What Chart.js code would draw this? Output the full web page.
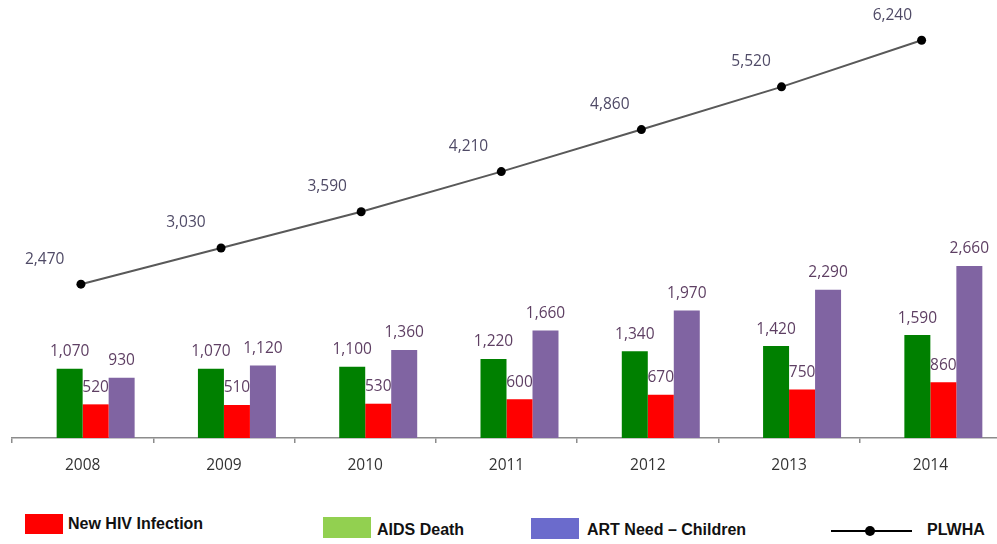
<!DOCTYPE html>
<html>
<head>
<meta charset="utf-8">
<script src="https://cdn.jsdelivr.net/npm/chart.js@4/dist/chart.umd.min.js"></script>
<style>
  html, body { margin: 0; padding: 0; background: #fff; width: 997px; height: 544px; overflow: hidden; }
  .layer { position: absolute; left: 0; top: 0; width: 1005px; height: 500px; }
  .lg { position: absolute; font-family: "Liberation Sans", Arial, sans-serif; font-weight: bold; font-size: 16px; line-height: 16px; color: #111; white-space: nowrap; }
  .sw { position: absolute; }
</style>
</head>
<body>
<div class="layer"><canvas id="bars" width="1005" height="500"></canvas></div>
<div class="layer"><canvas id="trend" width="1005" height="500"></canvas></div>

<!-- legend -->
<div class="sw" style="left:25px;top:514px;width:38px;height:20px;background:#ff0000;"></div>
<div class="lg" style="left:68px;top:516px;">New HIV Infection</div>
<div class="sw" style="left:323px;top:517px;width:48px;height:21px;background:#92d050;"></div>
<div class="lg" style="left:377px;top:522px;">AIDS Death</div>
<div class="sw" style="left:531px;top:518px;width:48px;height:21px;background:#6b6bcc;"></div>
<div class="lg" style="left:587px;top:522px;">ART Need – Children</div>
<div class="sw" style="left:831px;top:530px;width:81px;height:1.5px;background:#000;"></div>
<div class="sw" style="left:865px;top:526px;width:10px;height:10px;border-radius:50%;background:#000;"></div>
<div class="lg" style="left:927px;top:522px;">PLWHA</div>

<script>
// Yearly figures
const years = ['2008', '2009', '2010', '2011', '2012', '2013', '2014'];
const aidsDeath = [1070, 1070, 1100, 1220, 1340, 1420, 1590];
const newInfection = [520, 510, 530, 600, 670, 750, 860];
const artNeedChildren = [930, 1120, 1360, 1660, 1970, 2290, 2660];
const plwha = [2470, 3030, 3590, 4210, 4860, 5520, 6240];

const fmt = v => v.toLocaleString('en-US');
const LABEL_FONT = '15.5px "Open Sans", sans-serif';

// Value written above each bar
const barLabels = {
  id: 'barLabels',
  afterDatasetsDraw(chart) {
    const ctx = chart.ctx;
    ctx.save();
    ctx.font = LABEL_FONT;
    ctx.textAlign = 'center';
    ctx.textBaseline = 'middle';
    ctx.fillStyle = '#5e3f63';
    chart.data.datasets.forEach((ds, di) => {
      if (!ds.showValues) return;
      chart.getDatasetMeta(di).data.forEach((bar, i) => {
        if (ds.data[i] == null) return;
        ctx.fillText(fmt(ds.data[i]), bar.x, bar.y - 17);
      });
    });
    ctx.restore();
  }
};

// Bar layer: one empty leading slot, then AIDS Death, New HIV Infection, ART Need
const barChart = new Chart(document.getElementById('bars'), {
  type: 'bar',
  data: {
    labels: years,
    datasets: [
      { label: '', data: years.map(() => null), backgroundColor: 'rgba(0,0,0,0)' },
      { label: 'AIDS Death', data: aidsDeath, backgroundColor: '#008000', showValues: true },
      { label: 'New HIV Infection', data: newInfection, backgroundColor: '#ff0000', showValues: true },
      { label: 'ART Need – Children', data: artNeedChildren, backgroundColor: '#8064a2', showValues: true }
    ]
  },
  options: {
    responsive: false,
    animation: false,
    devicePixelRatio: 1,
    layout: { padding: { left: 12, right: 4, top: 10, bottom: 2 } },
    categoryPercentage: 0.736,
    barPercentage: 1,
    plugins: { legend: { display: false }, tooltip: { enabled: false } },
    scales: {
      x: {
        grid: { offset: true, drawOnChartArea: false, drawTicks: true, tickLength: 5, color: '#8c8c8c', lineWidth: 1.5 },
        border: { color: '#8c8c8c', width: 1.5 },
        ticks: { color: '#333', font: { family: '"Open Sans", sans-serif', size: 15.5 }, padding: 13 },
        afterFit: s => { s.height = 60; }
      },
      y: { display: false, min: 0, max: 6615 }
    }
  },
  plugins: [barLabels]
});

// Value written up and to the left of each PLWHA point
const pointLabels = {
  id: 'pointLabels',
  afterDatasetsDraw(chart) {
    const ctx = chart.ctx;
    const cat = barChart.scales.x;
    ctx.save();
    ctx.font = LABEL_FONT;
    ctx.textAlign = 'center';
    ctx.textBaseline = 'middle';
    ctx.fillStyle = '#4f4a66';
    chart.getDatasetMeta(0).data.forEach((pt, i) => {
      ctx.fillText(fmt(plwha[i]), cat.getPixelForValue(i) - 38, pt.y - 25);
    });
    ctx.restore();
  }
};

// Trend layer: PLWHA line drawn over the bars
new Chart(document.getElementById('trend'), {
  type: 'line',
  data: {
    datasets: [{
      label: 'PLWHA',
      data: years.map((y, i) => ({ x: Number(y), y: plwha[i] })),
      borderColor: '#595959',
      borderWidth: 2,
      pointRadius: 4.5,
      pointBackgroundColor: '#000',
      pointBorderWidth: 0,
      tension: 0
    }]
  },
  options: {
    responsive: false,
    animation: false,
    devicePixelRatio: 1,
    layout: { padding: { left: 12, right: 4, top: 10, bottom: 62 } },
    plugins: { legend: { display: false }, tooltip: { enabled: false } },
    scales: {
      x: { type: 'linear', display: false, min: 2007.508, max: 2014.563 },
      y: { display: false, min: 92.7, max: 6708 }
    }
  },
  plugins: [pointLabels]
});
</script>
</body>
</html>
